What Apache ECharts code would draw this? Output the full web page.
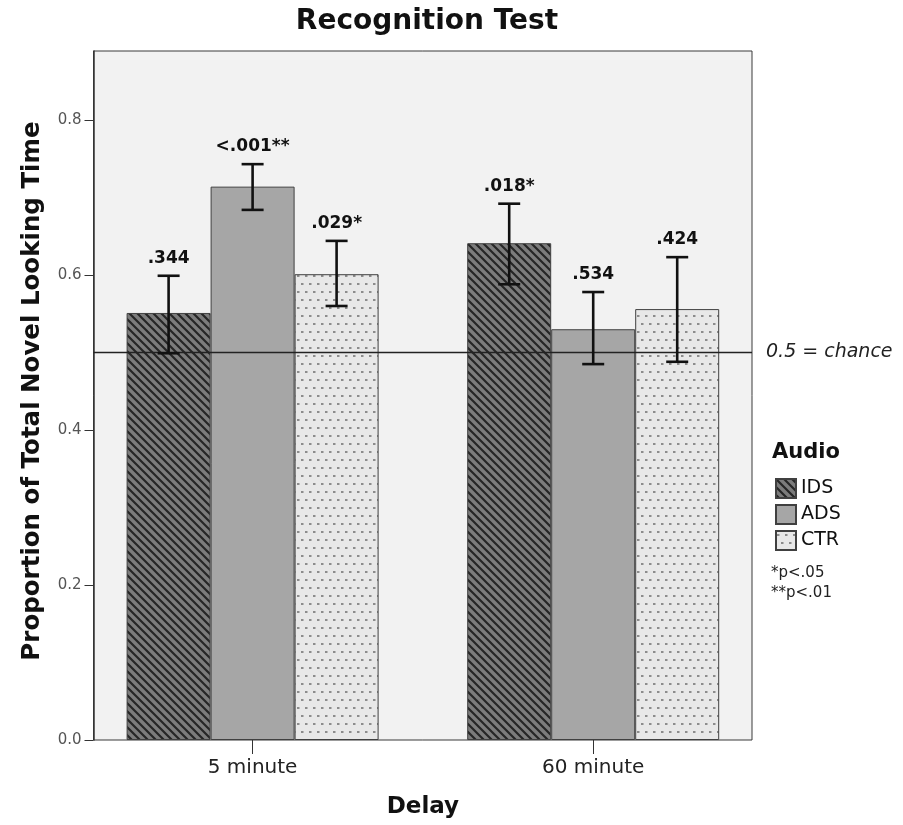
<!DOCTYPE html>
<html>
<head>
<meta charset="utf-8">
<script src="https://cdn.jsdelivr.net/npm/echarts@6/dist/echarts.min.js"></script>
<style>
html,body{margin:0;padding:0;background:#fff;}
#chart{width:903px;height:825px;}
</style>
</head>
<body>
<div id="chart"></div>
<script>
// ---- data ----
const categories = ['5 minute', '60 minute'];
const seriesNames = ['IDS', 'ADS', 'CTR'];
const idsMean = [0.551, 0.641];
const adsMean = [0.714, 0.530];
const ctrMean = [0.601, 0.556];
const idsLow = [0.499, 0.588];
const idsHigh = [0.599, 0.692];
const adsLow = [0.684, 0.485];
const adsHigh = [0.743, 0.578];
const ctrLow = [0.560, 0.488];
const ctrHigh = [0.644, 0.623];
const idsP = ['.344', '.018*'];
const adsP = ['<.001**', '.534'];
const ctrP = ['.029*', '.424'];
const yTicks = [0, 0.2, 0.4, 0.6, 0.8];
const chanceLevel = 0.5;

// ---- patterns ----
function hatch() {
  const s = 8, c = document.createElement('canvas');
  c.width = s; c.height = s;
  const g = c.getContext('2d');
  g.fillStyle = '#7c7c7c'; g.fillRect(0, 0, s, s);
  g.strokeStyle = '#262626'; g.lineWidth = 2.2;
  g.beginPath();
  g.moveTo(-2, -2); g.lineTo(s + 2, s + 2);
  g.moveTo(-2, s - 2); g.lineTo(2, s + 2);
  g.moveTo(s - 2, -2); g.lineTo(s + 2, 2);
  g.stroke();
  return { image: c, repeat: 'repeat' };
}
function dots() {
  const c = document.createElement('canvas');
  c.width = 8; c.height = 16;
  const g = c.getContext('2d');
  g.fillStyle = '#e8e8e8'; g.fillRect(0, 0, 8, 16);
  g.fillStyle = '#8c8c8c';
  g.fillRect(1, 3, 2.5, 2);
  g.fillRect(5, 11, 2.5, 2);
  return { image: c, repeat: 'repeat' };
}
const fills = [hatch(), '#a6a6a6', dots()];

const BAR_W = 84;
const FONT = 'DejaVu Sans';

const means = [idsMean, adsMean, ctrMean];
const lows = [idsLow, adsLow, ctrLow];
const highs = [idsHigh, adsHigh, ctrHigh];
const pLabels = [idsP, adsP, ctrP];

const errData = [];
const errText = [];
for (let s = 0; s < 3; s++) {
  for (let i = 0; i < categories.length; i++) {
    errData.push([i, lows[s][i], highs[s][i], s - 1]);
    errText.push(pLabels[s][i]);
  }
}

const chart = echarts.init(document.getElementById('chart'), null, { renderer: 'canvas' });

const barSeries = seriesNames.map((n, s) => ({
  name: n,
  type: 'bar',
  xAxisIndex: 1,
  yAxisIndex: 1,
  data: means[s],
  barWidth: BAR_W,
  barGap: '0%',
  z: 2,
  itemStyle: { color: fills[s], borderColor: '#404040', borderWidth: 1 },
  emphasis: { disabled: true }
}));

const option = {
  animation: false,
  backgroundColor: '#ffffff',
  textStyle: { fontFamily: FONT },
  grid: [
    { left: 93.5, right: 151, top: 51, bottom: 85, show: true, backgroundColor: '#f2f2f2', borderColor: '#3a3a3a', borderWidth: 1, z: 0 },
    { left: 82.3, right: 139.5, top: 51, bottom: 85 }
  ],
  xAxis: [
    { type: 'value', gridIndex: 0, min: 0, max: 1, show: false },
    {
      type: 'category', gridIndex: 1, data: categories,
      axisLine: { show: false },
      axisTick: { show: true, alignWithLabel: true, length: 14, lineStyle: { color: '#333', width: 1 } },
      axisLabel: { fontFamily: FONT, fontSize: 20, color: '#222', margin: 18 },
      name: 'Delay', nameLocation: 'middle', nameGap: 56,
      nameTextStyle: { fontFamily: FONT, fontSize: 23, fontWeight: 'bold', color: '#111' }
    }
  ],
  yAxis: [
    {
      type: 'value', gridIndex: 0, min: 0, max: 0.889, interval: 0.2,
      splitLine: { show: false },
      axisLine: { show: true, lineStyle: { color: '#333', width: 1.5 } },
      axisTick: { show: true, length: 9, customValues: yTicks, lineStyle: { color: '#333' } },
      axisLabel: { fontFamily: FONT, fontSize: 15, color: '#555', margin: 12, customValues: yTicks,
        formatter: v => v.toFixed(1) }
    },
    { type: 'value', gridIndex: 1, min: 0, max: 0.889, show: false, splitLine: { show: false } }
  ],
  legend: {
    data: seriesNames,
    orient: 'vertical',
    left: 775, top: 478,
    itemWidth: 20, itemHeight: 19, itemGap: 5,
    icon: 'rect',
    padding: 0,
    textStyle: { fontFamily: FONT, fontSize: 19, color: '#111', padding: [0, 0, 0, 0] },
    selectedMode: false
  },
  graphic: [
    { type: 'text', x: 427, y: 22, style: { text: 'Recognition Test', font: 'bold 28px "DejaVu Sans"', fill: '#111', textAlign: 'center', textVerticalAlign: 'middle' } },
    { type: 'text', x: 33, y: 391, rotation: Math.PI / 2,
      style: { text: 'Proportion of Total Novel Looking Time', font: 'bold 24.5px "DejaVu Sans"', fill: '#111', textAlign: 'center', textVerticalAlign: 'middle' } },
    { type: 'text', left: 772, top: 442, style: { text: 'Audio', font: 'bold 21px "DejaVu Sans"', fill: '#111' } },
    { type: 'text', left: 771, top: 563, style: { text: '*p<.05\n**p<.01', font: '15px "DejaVu Sans"', fill: '#222', lineHeight: 20 } }
  ],
  series: [
    ...barSeries,
    {
      name: 'chance', type: 'line', xAxisIndex: 0, yAxisIndex: 0, data: [], z: 5,
      markLine: {
        silent: true, symbol: ['none', 'none'],
        lineStyle: { color: '#222', width: 1.3, type: 'solid' },
        label: { show: true, position: 'end', formatter: '0.5 = chance', distance: 14,
          fontFamily: FONT, fontStyle: 'italic', fontSize: 19, color: '#222' },
        data: [{ yAxis: chanceLevel }]
      }
    },
    {
      name: 'err', type: 'custom', xAxisIndex: 1, yAxisIndex: 1, z: 6,
      data: errData,
      encode: { x: 0, y: [1, 2] },
      renderItem: function (params, api) {
        const ci = api.value(0);
        const lo = api.coord([ci, api.value(1)]);
        const hi = api.coord([ci, api.value(2)]);
        const x = lo[0] + api.value(3) * BAR_W;
        const cap = 11;
        const st = { stroke: '#111', lineWidth: 2.6 };
        return {
          type: 'group',
          children: [
            { type: 'line', shape: { x1: x, y1: lo[1], x2: x, y2: hi[1] }, style: st },
            { type: 'line', shape: { x1: x - cap, y1: lo[1], x2: x + cap, y2: lo[1] }, style: st },
            { type: 'line', shape: { x1: x - cap, y1: hi[1], x2: x + cap, y2: hi[1] }, style: st },
            { type: 'text', x: x, y: hi[1] - 9,
              style: { text: errText[params.dataIndex], font: 'bold 17px "DejaVu Sans"', fill: '#111',
                textAlign: 'center', textVerticalAlign: 'bottom' } }
          ]
        };
      }
    }
  ]
};
chart.setOption(option);
</script>
</body>
</html>
